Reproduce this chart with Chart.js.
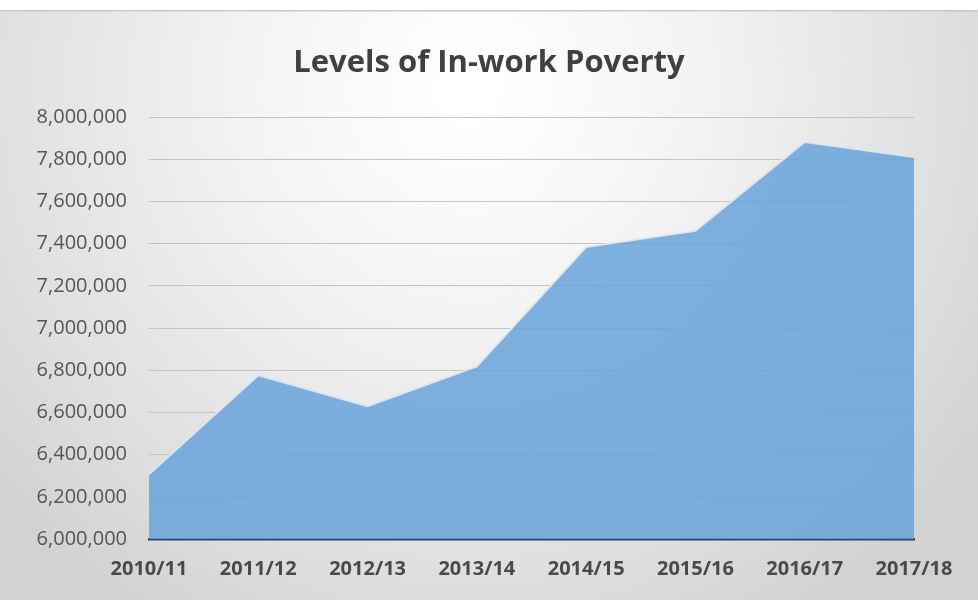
<!DOCTYPE html>
<html>
<head>
<meta charset="utf-8">
<script src="https://cdn.jsdelivr.net/npm/chart.js@4"></script>
<style>
  html, body { margin: 0; padding: 0; background: #ffffff; }
  #wrap { width: 978px; height: 600px; position: relative; }
</style>
</head>
<body>
<div id="wrap"><canvas id="c" width="978" height="600"></canvas></div>
<script>
const categories = ['2010/11', '2011/12', '2012/13', '2013/14', '2014/15', '2015/16', '2016/17', '2017/18'];
const inWorkPoverty = [6307000, 6776000, 6630000, 6818000, 7384000, 7461000, 7882000, 7811000];
const yTicks = [6000000, 6200000, 6400000, 6600000, 6800000, 7000000, 7200000, 7400000, 7600000, 7800000, 8000000];
const chartTitle = 'Levels of In-work Poverty';

const bgPlugin = {
  id: 'bg',
  beforeDraw(chart) {
    const ctx = chart.ctx;
    const w = chart.width, h = chart.height;
    ctx.save();
    ctx.fillStyle = '#ffffff';
    ctx.fillRect(0, 0, w, h);
    const g = ctx.createRadialGradient(470, 90, 20, 470, 90, 620);
    g.addColorStop(0, '#ffffff');
    g.addColorStop(0.35, '#f3f3f3');
    g.addColorStop(0.75, '#e0e0e0');
    g.addColorStop(1, '#d2d2d2');
    ctx.fillStyle = g;
    ctx.fillRect(0, 10, w, h - 10);
    ctx.fillStyle = '#c8c8c8';
    ctx.fillRect(0, 10, w, 1.5);
    ctx.restore();
  }
};

new Chart(document.getElementById('c'), {
  type: 'line',
  data: {
    labels: categories,
    datasets: [{
      label: 'In-work poverty',
      data: inWorkPoverty,
      fill: 'start',
      backgroundColor: 'rgba(105,163,218,0.85)',
      borderColor: 'rgba(215,232,250,0.95)',
      borderWidth: 2,
      pointRadius: 0,
      tension: 0
    }]
  },
  options: {
    responsive: false,
    animation: false,
    layout: { padding: { left: 0, right: 0, top: 0, bottom: 0 } },
    plugins: {
      legend: { display: false },
      tooltip: { enabled: false },
      title: {
        display: true,
        text: chartTitle,
        color: '#404040',
        font: { family: 'Open Sans', size: 31, weight: 'bold' },
        padding: { top: 45, bottom: 35 }
      }
    },
    scales: {
      x: {
        offset: false,
        z: 1,
        grid: { display: false, drawTicks: false },
        border: { display: true, color: '#404040', width: 2.5 },
        ticks: {
          color: '#4a4a4a',
          font: { family: 'Open Sans', size: 20, weight: 'bold' },
          padding: 18,
          maxRotation: 0,
          autoSkip: false
        },
        afterFit(scale) { scale.height = 61; }
      },
      y: {
        min: 6000000,
        max: 8000000,
        afterBuildTicks(scale) { scale.ticks = yTicks.map(v => ({ value: v })); },
        grid: { color: '#c4c4c4', lineWidth: 1, drawTicks: false },
        border: { display: false },
        ticks: {
          color: '#555555',
          font: { family: 'Open Sans', size: 20 },
          padding: 22,
          callback: v => Number(v).toLocaleString('en-US')
        },
        afterFit(scale) { scale.width = 149; }
      },
      yRight: {
        position: 'right',
        min: 6000000,
        max: 8000000,
        grid: { display: false, drawTicks: false },
        border: { display: false },
        ticks: { display: false },
        afterFit(scale) { scale.width = 64; }
      }
    }
  },
  plugins: [bgPlugin]
});
</script>
</body>
</html>
